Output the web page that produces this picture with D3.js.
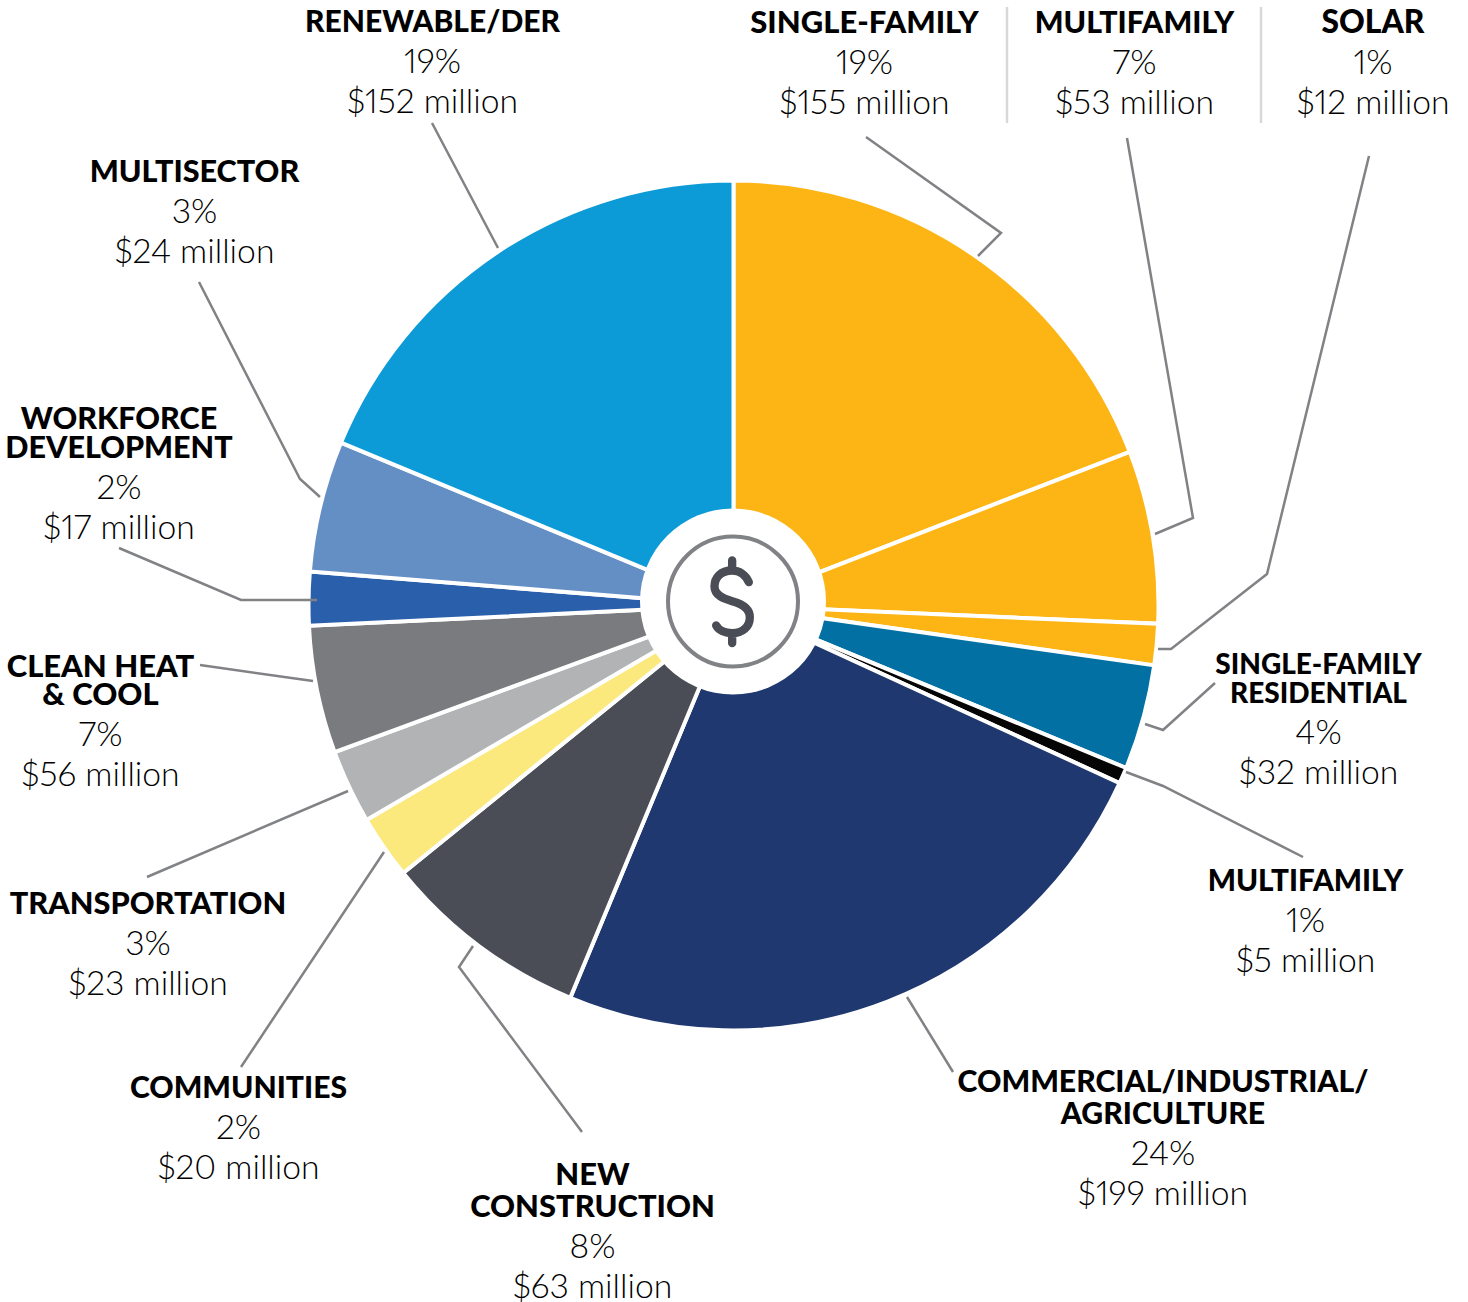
<!DOCTYPE html>
<html><head><meta charset="utf-8">
<script src="https://d3js.org/d3.v7.min.js"></script>
<style>html,body{margin:0;padding:0;background:#fff}svg{display:block}
text{font-family:Lato,sans-serif;text-anchor:middle;font-variant-numeric:proportional-nums lining-nums}
.h{font-weight:900;fill:#000}
.v{font-weight:300;font-size:33.7px;fill:#000}</style>
</head><body><svg id="c" width="1468" height="1302"></svg>
<script>
const categories=["Single-Family","Multifamily","Solar","Single-Family Residential","Multifamily (residential)","Commercial/Industrial/Agriculture","New Construction","Communities","Transportation","Clean Heat & Cool","Workforce Development","Multisector","Renewable/DER"];
// wedge sizes as drawn in the picture (clean heat and multisector wedges differ from their printed labels)
const values=[155,53.3,12.7,32.4,5,198,64,19.6,22.8,39.3,16.5,40.4,152];
const colors=["#fdb515","#fdb515","#fdb515","#0370a3","#050505","#203870","#4a4d55","#fce97e","#b1b3b5","#797b7f","#2a5fac","#648fc4","#0d9bd8"];
const headings=[["SINGLE-FAMILY"],["MULTIFAMILY"],["SOLAR"],["SINGLE-FAMILY","RESIDENTIAL"],["MULTIFAMILY"],["COMMERCIAL/INDUSTRIAL/","AGRICULTURE"],["NEW","CONSTRUCTION"],["COMMUNITIES"],["TRANSPORTATION"],["CLEAN HEAT","& COOL"],["WORKFORCE","DEVELOPMENT"],["MULTISECTOR"],["RENEWABLE/DER"]];
const percents=["19%","7%","1%","4%","1%","24%","8%","2%","3%","7%","2%","3%","19%"];
const amounts=["$155 million","$53 million","$12 million","$32 million","$5 million","$199 million","$63 million","$20 million","$23 million","$56 million","$17 million","$24 million","$152 million"];
const labelX=[864.5,1134.5,1373,1318.5,1305.5,1163,592.5,238.5,148,100.5,119,194.5,432.5];
const labelY=[33,33,33,674,891,1092,1185,1098,914,677,429,182,32];
const headingLeading=[0,0,0,29,0,32,32,0,0,28,29,0,0];
const headingSize=[31,30.3,31.8,28,29.7,30.2,30.9,30.1,30.7,31,30.5,30.6,30];
const leaders=[
[[866,137],[1001,233],[978,256]],
[[1127,138],[1193,518],[1155,534]],
[[1369,156],[1267,574],[1171,649],[1158,649]],
[[1215,683],[1163,730],[1145,724]],
[[1303,857],[1163,786],[1126,772]],
[[953,1072],[907,997]],
[[582,1132],[459,967],[473,946]],
[[241,1067],[384,852]],
[[147,877],[348,791]],
[[200,665],[313,681]],
[[119,548],[241,600],[317,600]],
[[199,282],[300,479],[320,497]],
[[432,123],[498,248]]];
const dividers=[1007,1261];

const svg=d3.select("#c");
const cx=733.5,cy=605.5,R=425,hole=93,holeCy=601.5;
const pie=d3.pie().sort(null).value(d=>d);
const arc=d3.arc().innerRadius(60).outerRadius(R);
const g=svg.append("g").attr("transform",`translate(${cx},${cy})`);
g.selectAll("path").data(pie(values)).join("path")
 .attr("d",arc).attr("fill",(d,i)=>colors[i]).attr("stroke","#fff").attr("stroke-width",4);
const c=svg.append("g").attr("transform",`translate(733,${holeCy})`);
c.append("circle").attr("r",hole).attr("fill","#fff");
c.append("circle").attr("r",65).attr("fill","none").attr("stroke","#808285").attr("stroke-width",4);
svg.append("path").attr("transform","translate(620.5,490.5) scale(0.3333)")
 .attr("d","M385,275 C375,252 355,240 335,240 C300,240 282,262 282,288 C282,315 310,325 335,332 C365,340 388,352 388,380 C388,410 365,428 335,428 C315,428 295,420 287,405 M335,210 V240 M335,428 V458")
 .attr("fill","none").attr("stroke","#4a4d55").attr("stroke-width",25).attr("stroke-linecap","round");

const line=d3.line();
svg.append("g").selectAll("path").data(leaders).join("path")
 .attr("d",line).attr("fill","none").attr("stroke","#808285").attr("stroke-width",2.5);
svg.append("g").selectAll("line").data(dividers).join("line")
 .attr("x1",d=>d).attr("x2",d=>d).attr("y1",7).attr("y2",123)
 .attr("stroke","#d8d8d8").attr("stroke-width",2.5);

const lab=svg.append("g").selectAll("g").data(categories).join("g");
lab.each(function(_,i){
  const s=d3.select(this);let y=labelY[i];
  headings[i].forEach((t,k)=>{
    s.append("text").attr("class","h").attr("x",labelX[i]).attr("y",y+k*headingLeading[i]).attr("font-size",headingSize[i]).text(t);
  });
  y+=(headings[i].length-1)*headingLeading[i];
  s.append("text").attr("class","v").attr("x",labelX[i]).attr("y",y+40.5).text(percents[i]);
  s.append("text").attr("class","v").attr("x",labelX[i]).attr("y",y+80.5).text(amounts[i]);
});
</script></body></html>
